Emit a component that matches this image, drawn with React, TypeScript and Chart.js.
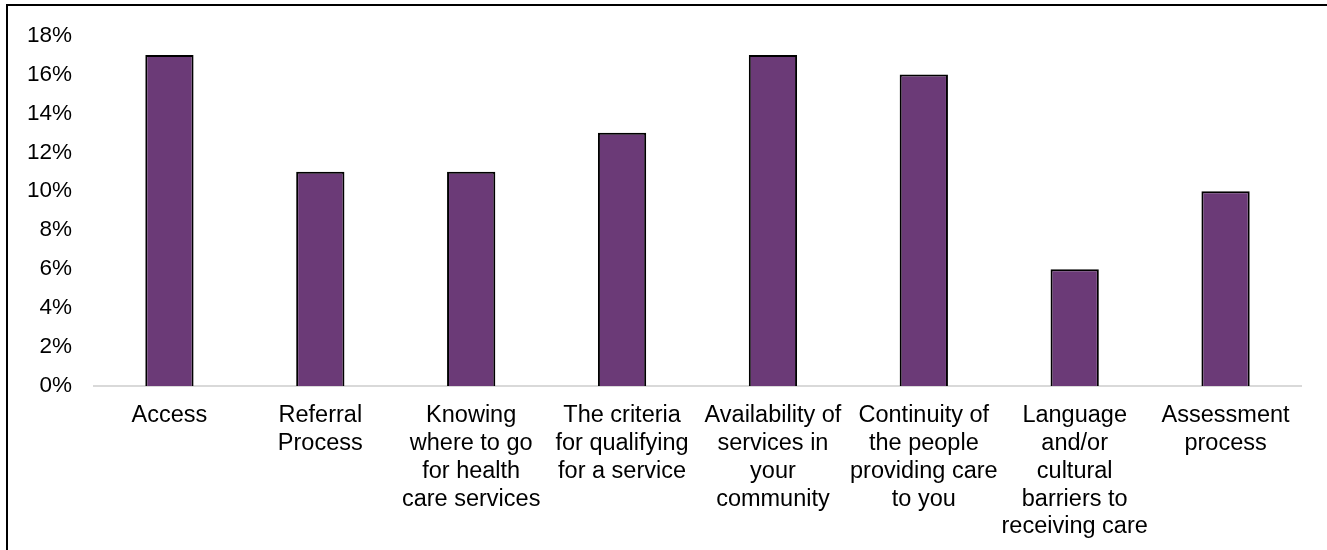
import React, { useEffect, useRef } from "react";
import { Chart, registerables } from "chart.js";

Chart.register(...registerables);

const categories: (string | string[])[] = [
  "Access",
  ["Referral", "Process"],
  ["Knowing", "where to go", "for health", "care services"],
  ["The criteria", "for qualifying", "for a service"],
  ["Availability of", "services in", "your", "community"],
  ["Continuity of", "the people", "providing care", "to you"],
  ["Language", "and/or", "cultural", "barriers to", "receiving care"],
  ["Assessment", "process"],
];

const values: number[] = [17, 11, 11, 13, 17, 16, 6, 10];

const yMax = 18;
const yStep = 2;

const FONT = "'Liberation Sans', Arial, sans-serif";

export default function App() {
  const ref = useRef<HTMLCanvasElement | null>(null);

  useEffect(() => {
    if (!ref.current) return;
    const chart = new Chart(ref.current, {
      type: "bar",
      data: {
        labels: categories,
        datasets: [
          {
            data: values,
            backgroundColor: "#6b3a77",
            borderColor: "#000000",
            borderWidth: 2,
            barPercentage: 0.32,
            categoryPercentage: 1,
          },
        ],
      },
      options: {
        responsive: false,
        animation: false,
        layout: { padding: { left: 0, right: 26, top: 35, bottom: 0 } },
        plugins: { legend: { display: false }, tooltip: { enabled: false } },
        scales: {
          x: {
            grid: { display: false, drawTicks: false },
            border: { display: true, color: "#d9d9d9", width: 2 },
            ticks: {
              color: "#000",
              font: { family: FONT, size: 23.5, lineHeight: 1.18 },
              padding: 16,
              autoSkip: false,
              maxRotation: 0,
              minRotation: 0,
            },
            afterFit: (scale: any) => {
              scale.height = 164;
            },
          },
          y: {
            min: 0,
            max: yMax,
            grid: { display: false, drawTicks: false },
            border: { display: false },
            ticks: {
              stepSize: yStep,
              color: "#000",
              font: { family: FONT, size: 22.5 },
              padding: 22,
              callback: (v: any) => `${v}%`,
            },
            afterFit: (scale: any) => {
              scale.width = 94;
            },
          },
        },
      },
    });
    return () => chart.destroy();
  }, []);

  return (
    <div style={{ position: "absolute", left: 0, top: 0, width: 1327, height: 550, background: "#fff" }}>
      <canvas ref={ref} width={1327} height={550} style={{ position: "absolute", left: 0, top: 0 }} />
      <div
        style={{
          position: "absolute",
          left: 6,
          top: 4,
          width: 1330,
          height: 560,
          borderTop: "2px solid #000",
          borderLeft: "2px solid #000",
          pointerEvents: "none",
        }}
      />
    </div>
  );
}
